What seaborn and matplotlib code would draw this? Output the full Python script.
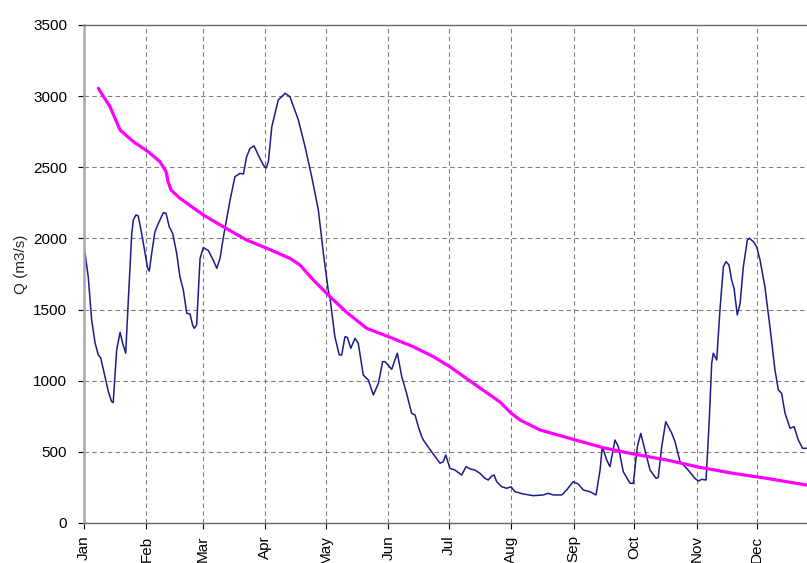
import numpy as np
import pandas as pd
import matplotlib
matplotlib.use('Agg')
import matplotlib.pyplot as plt
import matplotlib.dates as mdates
import seaborn as sns

# observed daily discharge (day offset from 1 Jan, m3/s)
obs_day = [0.5, 2.1, 3.8, 5.5, 7.1, 8.3, 10.4, 12.1, 13.7, 14.5, 16.2, 17.9, 19.2, 20.7,
           22.0, 23.7, 24.5, 25.8, 26.9, 28.6, 30.3, 31.6, 32.4, 33.6, 35.2, 36.9, 37.7,
           39.4, 40.7, 42.3, 44.0, 46.0, 47.6, 49.3, 51.0, 52.6, 53.9, 54.7, 55.9, 57.6,
           59.2, 61.7, 64.1, 65.9, 67.5, 69.2, 72.5, 74.9, 77.4, 79.1, 80.7, 82.4, 84.4,
           86.5, 89.0, 90.3, 91.5, 93.2, 96.4, 99.8, 102.2, 106.4, 109.7, 113.0, 116.3,
           118.8, 121.2, 122.1, 124.5, 126.7, 127.9, 129.5, 130.7, 132.4, 134.5, 136.1,
           138.6, 141.1, 143.6, 146.1, 148.2, 149.4, 152.7, 154.3, 155.5, 157.7, 160.1,
           162.6, 164.3, 165.9, 167.6, 168.4, 172.5, 176.7, 178.3, 179.5, 181.6, 184.1,
           187.4, 189.6, 191.6, 194.0, 196.5, 199.0, 200.6, 202.3, 203.5, 204.8, 207.3,
           209.8, 211.9, 213.9, 218.0, 223.0, 227.9, 230.4, 232.9, 237.1, 239.5, 242.8,
           245.3, 247.8, 251.1, 254.1, 256.1, 257.2, 259.4, 261.0, 263.5, 265.2, 267.6,
           271.0, 272.6, 274.6, 276.3, 278.4, 280.9, 283.9, 285.0, 286.7, 288.7, 291.7,
           293.3, 295.8, 299.1, 303.2, 304.9, 306.6, 308.7, 310.3, 311.5, 312.3, 314.0,
           315.6, 317.3, 318.6, 320.1, 321.4, 322.6, 324.2, 325.6, 327.2, 329.2, 330.2,
           332.2, 333.8, 335.5, 337.9, 340.4, 342.9, 344.6, 346.2, 347.9, 350.4, 352.4,
           354.5, 356.6, 358.6]
obs_q = [1898, 1731, 1427, 1265, 1181, 1160, 1028, 923, 853, 846, 1216, 1340, 1263, 1193,
         1567, 2036, 2130, 2165, 2158, 2036, 1895, 1790, 1771, 1895, 2047, 2106, 2130,
         2181, 2177, 2082, 2036, 1895, 1731, 1637, 1474, 1469, 1392, 1368, 1392, 1860,
         1936, 1915, 1848, 1790, 1860, 2012, 2270, 2434, 2457, 2453, 2574, 2633, 2650,
         2586, 2516, 2493, 2539, 2785, 2973, 3020, 2996, 2832, 2645, 2434, 2200,
         1895, 1637, 1579, 1309, 1181, 1181, 1309, 1305, 1228, 1298, 1263,
         1040, 1005, 900, 982, 1134, 1134, 1080, 1146, 1193, 1028, 911,
         771, 759, 677, 607, 583, 501, 420, 431, 478, 384, 372,
         337, 396, 380, 372, 349, 314, 302, 330, 337, 290, 255,
         244, 255, 220, 204, 192, 197, 209, 197, 197, 232, 290,
         274, 232, 220, 197, 372, 536, 443, 396, 583, 536, 361,
         279, 279, 536, 630, 513, 372, 314, 321, 536, 712, 630,
         571, 431, 384, 314, 295, 307, 302, 724, 1122, 1193, 1146,
         1497, 1801, 1837, 1813, 1708, 1649, 1462, 1544, 1801, 1989, 2001,
         1977, 1942, 1848, 1661, 1380, 1075, 935, 911, 771, 666, 677,
         583, 525, 525]

# smooth reference curve
ref_day = [7.1, 12.9, 17.9, 24.5, 31.9, 37.7, 40.7, 41.7, 43.2, 47.6, 59.2, 69.1, 80.7,
           90.7, 102.2, 107.2, 113.8, 122.1, 130.4, 140.3, 151.9, 163.4, 173.4, 181.6,
           196.5, 206.5, 211.9, 216.4, 226.3, 242.8, 257.7, 272.6, 289.1, 305.7, 322.2,
           338.7, 358.6]
ref_q = [3055, 2926, 2762, 2680, 2609, 2539, 2470, 2400, 2340, 2282, 2165, 2082, 1989,
         1931, 1860, 1813, 1708, 1590, 1480, 1368, 1305, 1239, 1169, 1098,
         949, 850, 773, 724, 654, 588, 529, 485, 443, 391, 349,
         314, 267]

start = pd.Timestamp('2021-01-01')
obs = pd.DataFrame({'date': start + pd.to_timedelta(obs_day, unit='D'), 'Q': obs_q})
ref = pd.DataFrame({'date': start + pd.to_timedelta(ref_day, unit='D'), 'Q': ref_q})

sns.set_style('white')
plt.rcParams['font.family'] = ['Liberation Sans', 'DejaVu Sans']

fig = plt.figure(figsize=(8.07, 5.63), dpi=100)
ax = fig.add_axes([84 / 807, 1 - 523 / 563, 1 - 84 / 807, (523 - 25) / 563])

sns.lineplot(data=obs, x='date', y='Q', ax=ax, color='#1c1c8a', linewidth=1.1)
sns.lineplot(data=ref, x='date', y='Q', ax=ax, color='#ff00ff', linewidth=2.3)

ax.set_xlim(start, start + pd.Timedelta(days=358.8))
ax.set_ylim(0, 3500)
ax.set_yticks(np.arange(0, 3501, 500))
ax.xaxis.set_major_locator(mdates.MonthLocator())
ax.xaxis.set_major_formatter(mdates.DateFormatter('%b'))
plt.setp(ax.get_xticklabels(), rotation=90)

ax.grid(True, color='#808080', linestyle=(0, (4, 3)), linewidth=0.8)
ax.tick_params(axis='both', labelsize=11, colors='#000000', length=4, width=0.8,
               direction='out', bottom=True, left=True)
ax.tick_params(axis='y', pad=8)
ax.tick_params(axis='x', pad=5)
for s in ['bottom', 'top']:
    ax.spines[s].set_color('#6a6a6a')
    ax.spines[s].set_linewidth(1.0)
ax.spines['left'].set_color('#a8a8a8')
ax.spines['left'].set_linewidth(1.8)
ax.spines['right'].set_visible(False)

ax.set_xlabel('')
ax.set_ylabel('Q (m3/s)', fontsize=11)
ax.yaxis.set_label_coords(-0.077, 0.52)

fig.savefig('out.png', dpi=100)
